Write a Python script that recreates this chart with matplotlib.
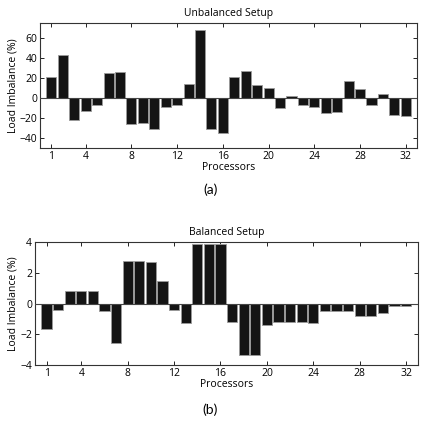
import matplotlib
matplotlib.use("Agg")
import matplotlib.pyplot as plt
import numpy as np

processors = list(range(1, 33))
unbalanced = [21, 43, -22, -13, -7, 25, 26, -26, -25, -31, -9, -7, 14, 68, -31, -35,
              21, 27, 13, 10, -10, 2, -7, -9, -15, -14, 17, 9, -7, 4, -17, -18]
balanced = [-1.65, -0.4, 0.82, 0.82, 0.82, -0.5, -2.55, 2.8, 2.8, 2.75, 1.5, -0.42, -1.25, 3.9, 3.9, 3.9,
            -1.18, -3.35, -3.35, -1.4, -1.22, -1.2, -1.2, -1.27, -0.47, -0.47, -0.47, -0.82, -0.82, -0.62, -0.18, -0.18]
xticks = [1, 4, 8, 12, 16, 20, 24, 28, 32]
yticks_a = [-40, -20, 0, 20, 40, 60]
yticks_b = [-4, -2, 0, 2, 4]

plt.rcParams['font.family'] = ['Open Sans', 'DejaVu Sans']
fs = 7.5
fig = plt.figure(figsize=(4.21, 4.23), dpi=100)

def panel(ax, vals, yticks, ylim, title):
    ax.bar(processors, vals, width=0.88, color='#141414', edgecolor='#9a9a9a', linewidth=0.6, zorder=2)
    ax.axhline(0, color='#444444', linewidth=0.8, zorder=3)
    ax.set_xlim(0, 33)
    ax.set_ylim(*ylim)
    ax.set_xticks(xticks)
    ax.set_yticks(yticks)
    ax.set_yticklabels([str(t).replace('-', '\u2212') for t in yticks])
    ax.tick_params(direction='in', top=True, right=True, labelsize=fs, length=3, width=0.6, pad=2)
    for s in ax.spines.values():
        s.set_linewidth(0.8)
        s.set_color('#333333')
    ax.set_xlabel('Processors', fontsize=fs, labelpad=0)
    ax.set_ylabel('Load Imbalance (%)', fontsize=fs, labelpad=1)
    ax.set_title(title, fontsize=fs, pad=5)

ax1 = fig.add_axes([0.095, 0.649, 0.896, 0.296])
panel(ax1, unbalanced, yticks_a, (-50, 75), 'Unbalanced Setup')
ax2 = fig.add_axes([0.083, 0.137, 0.909, 0.290])
panel(ax2, balanced, yticks_b, (-4, 4), 'Balanced Setup')

fig.text(0.5, 1 - 190 / 423, '(a)', ha='center', va='center', fontsize=10, family=['Lato', 'DejaVu Sans'])
fig.text(0.5, 1 - 410 / 423, '(b)', ha='center', va='center', fontsize=10, family=['Lato', 'DejaVu Sans'])

fig.savefig('out.png', dpi=100)
